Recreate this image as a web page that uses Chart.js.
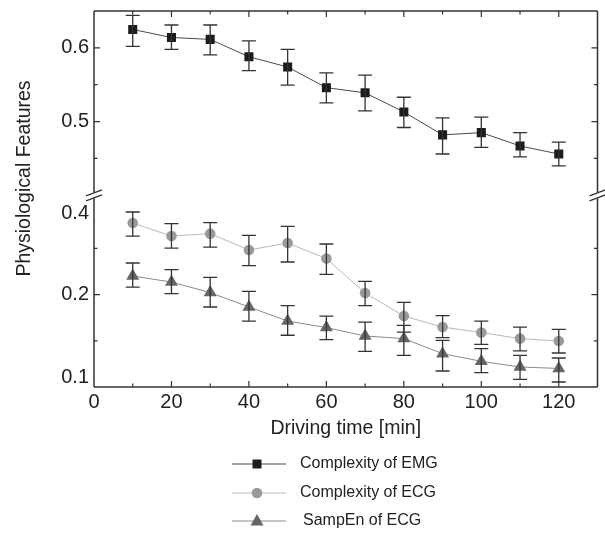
<!DOCTYPE html>
<html lang="en">
<head>
    <meta charset="UTF-8">
    <title>Physiological features x driving time</title>
    <style>
        html, body { margin: 0; padding: 0; background: #fff; }
        #grafico { display: block; }
    </style>
</head>
<body>
    <canvas id="grafico" width="605" height="534"></canvas>

<script src="https://cdn.jsdelivr.net/npm/chart.js"></script>
<script>
    // tempo de direcao (min)
    const tempos = [10, 20, 30, 40, 50, 60, 70, 80, 90, 100, 110, 120];

    // Complexity of EMG (eixo de cima)
    const emg    = [0.625, 0.614, 0.6115, 0.588, 0.574, 0.546, 0.539, 0.513, 0.482, 0.485, 0.467, 0.456];
    const emgSup = [0.644, 0.631, 0.631, 0.6096, 0.598, 0.566, 0.563, 0.533, 0.505, 0.506, 0.485, 0.472];
    const emgInf = [0.602, 0.598, 0.5905, 0.569, 0.5495, 0.5255, 0.5146, 0.492, 0.456, 0.465, 0.452, 0.440];

    // Complexity of ECG (eixo de baixo)
    const ecg    = [0.2775, 0.2634, 0.266, 0.2483, 0.2558, 0.239, 0.2017, 0.1768, 0.1649, 0.1589, 0.1524, 0.1498];
    const ecgSup = [0.2894, 0.2768, 0.2779, 0.2642, 0.2739, 0.2548, 0.2144, 0.1917, 0.1773, 0.1714, 0.1649, 0.1624];
    const ecgInf = [0.2634, 0.2504, 0.2515, 0.2314, 0.2353, 0.222, 0.1881, 0.1595, 0.1535, 0.1462, 0.139, 0.1368];

    // SampEn of ECG (eixo de baixo)
    const samp    = [0.2201, 0.2136, 0.2022, 0.1866, 0.1714, 0.1643, 0.1552, 0.1524, 0.1361, 0.1278, 0.1216, 0.1201];
    const sampSup = [0.2342, 0.2271, 0.2187, 0.2036, 0.1881, 0.1768, 0.1703, 0.1668, 0.1505, 0.1416, 0.1343, 0.1314];
    const sampInf = [0.2082, 0.2011, 0.1866, 0.1714, 0.156, 0.1513, 0.1386, 0.1343, 0.1173, 0.1156, 0.1083, 0.1054];

    const nomes = ['Complexity of EMG', 'Complexity of ECG', 'SampEn of ECG'];

    // ticks e rotulos
    const xTicks = [0, 10, 20, 30, 40, 50, 60, 70, 80, 90, 100, 110, 120, 130];
    const xRotulos = [0, 20, 40, 60, 80, 100, 120];
    const yTopTicks = [0.45, 0.5, 0.55, 0.6];
    const yTopRotulos = [0.5, 0.6];
    const yBotTicks = [0.15, 0.2, 0.25];
    const yBotRotuloValores = [0.11, 0.2, 0.2875];
    const yBotRotulos = ['0.1', '0.2', '0.4'];

    const fonte = "'Liberation Sans', Arial, sans-serif";
    const corTexto = '#222';
    const corEixo = '#333';

    const barras = [
        { sup: emgSup, inf: emgInf },
        { sup: ecgSup, inf: ecgInf },
        { sup: sampSup, inf: sampInf }
    ];

    function pontos(valores) {
        return tempos.map(function (t, i) { return { x: t, y: valores[i] }; });
    }

    function semPadding(s) {
        s.paddingTop = 0;
        s.paddingBottom = 0;
        s.paddingLeft = 0;
        s.paddingRight = 0;
    }

    const pluginFigura = {
        id: 'figura',
        afterDatasetsDraw(chart) {
            const ctx = chart.ctx;
            const sx = chart.scales.x;
            ctx.save();
            ctx.strokeStyle = corEixo;
            ctx.lineWidth = 1.3;
            chart.data.datasets.forEach(function (ds, d) {
                const sy = chart.scales[ds.yAxisID];
                for (let i = 0; i < tempos.length; i++) {
                    const x = sx.getPixelForValue(tempos[i]);
                    const y1 = sy.getPixelForValue(barras[d].sup[i]);
                    const y2 = sy.getPixelForValue(barras[d].inf[i]);
                    ctx.beginPath();
                    ctx.moveTo(x, y1); ctx.lineTo(x, y2);
                    ctx.moveTo(x - 7, y1); ctx.lineTo(x + 7, y1);
                    ctx.moveTo(x - 7, y2); ctx.lineTo(x + 7, y2);
                    ctx.stroke();
                }
            });
            ctx.restore();
        },
        afterDraw(chart) {
            const ctx = chart.ctx;
            const a = chart.chartArea;
            const sx = chart.scales.x;
            const sTop = chart.scales.yTop;
            const sBot = chart.scales.yBot;
            const quebra = sTop.bottom;

            ctx.save();
            ctx.strokeStyle = corEixo;
            ctx.lineWidth = 1.5;

            // moldura
            ctx.beginPath();
            ctx.moveTo(a.left, a.top); ctx.lineTo(a.right, a.top);
            ctx.moveTo(a.left, a.bottom); ctx.lineTo(a.right, a.bottom);
            ctx.moveTo(a.left, a.top); ctx.lineTo(a.left, quebra - 3);
            ctx.moveTo(a.left, quebra + 3); ctx.lineTo(a.left, a.bottom);
            ctx.moveTo(a.right, a.top); ctx.lineTo(a.right, quebra - 3);
            ctx.moveTo(a.right, quebra + 3); ctx.lineTo(a.right, a.bottom);
            ctx.stroke();

            // ticks para dentro
            ctx.lineWidth = 1.2;
            ctx.beginPath();
            xTicks.forEach(function (v) {
                if (v === 0 || v === 130) return;
                const x = sx.getPixelForValue(v);
                const len = v % 20 === 0 ? 6 : 3.5;
                ctx.moveTo(x, a.bottom); ctx.lineTo(x, a.bottom - len);
                ctx.moveTo(x, a.top); ctx.lineTo(x, a.top + len);
            });
            function ticksY(escala, valores, maiores) {
                valores.forEach(function (v) {
                    const y = escala.getPixelForValue(v);
                    const len = maiores.some(function (m) { return Math.abs(m - v) < 1e-6; }) ? 6 : 3.5;
                    ctx.moveTo(a.left, y); ctx.lineTo(a.left + len, y);
                    ctx.moveTo(a.right, y); ctx.lineTo(a.right - len, y);
                });
            }
            ticksY(sTop, yTopTicks, yTopRotulos);
            ticksY(sBot, yBotTicks, [0.2]);
            ctx.stroke();

            // marcas de quebra
            ctx.lineWidth = 1.3;
            [a.left, a.right].forEach(function (x) {
                ctx.beginPath();
                ctx.moveTo(x - 8, quebra + 0.5); ctx.lineTo(x + 8, quebra - 5.5);
                ctx.moveTo(x - 8, quebra + 5.5); ctx.lineTo(x + 8, quebra - 0.5);
                ctx.stroke();
            });

            // titulo do eixo y
            ctx.fillStyle = corTexto;
            ctx.font = '19.5px ' + fonte;
            ctx.textAlign = 'center';
            ctx.textBaseline = 'middle';
            ctx.translate(25, 178.5);
            ctx.rotate(-Math.PI / 2);
            ctx.fillText('Physiological Features', 0, 0);
            ctx.restore();

            // legenda
            ctx.save();
            const linhasY = [464, 493, 521];
            chart.data.datasets.forEach(function (ds, d) {
                const y = linhasY[d];
                ctx.strokeStyle = ds.borderColor;
                ctx.lineWidth = 1;
                ctx.beginPath();
                ctx.moveTo(232, y); ctx.lineTo(286, y);
                ctx.stroke();
                ctx.fillStyle = ds.pointBackgroundColor;
                ctx.beginPath();
                if (ds.pointStyle === 'rect') {
                    ctx.rect(257 - 4.5, y - 4.5, 9, 9);
                } else if (ds.pointStyle === 'circle') {
                    ctx.arc(257, y, 5.3, 0, Math.PI * 2);
                } else {
                    ctx.moveTo(257, y - 7);
                    ctx.lineTo(257 + 6.5, y + 4.5);
                    ctx.lineTo(257 - 6.5, y + 4.5);
                    ctx.closePath();
                }
                ctx.fill();
                ctx.fillStyle = corTexto;
                ctx.font = '16px ' + fonte;
                ctx.textAlign = 'left';
                ctx.textBaseline = 'middle';
                ctx.fillText(ds.label, d === 2 ? 303 : 300, y);
            });
            ctx.restore();
        }
    };

    const ctx = document.getElementById('grafico');

    new Chart(ctx, {
        type: 'line',
        data: {
            datasets: [{
                label: nomes[0],
                data: pontos(emg),
                yAxisID: 'yTop',
                borderColor: '#4a4a4a',
                borderWidth: 1,
                pointStyle: 'rect',
                pointRadius: 6.4,
                pointBackgroundColor: '#1c1c1c',
                pointBorderColor: '#1c1c1c',
                pointBorderWidth: 0
            }, {
                label: nomes[1],
                data: pontos(ecg),
                yAxisID: 'yBot',
                borderColor: '#b8b8b8',
                borderWidth: 1,
                pointStyle: 'circle',
                pointRadius: 5.3,
                pointBackgroundColor: '#9a9a9a',
                pointBorderColor: '#9a9a9a',
                pointBorderWidth: 0
            }, {
                label: nomes[2],
                data: pontos(samp),
                yAxisID: 'yBot',
                borderColor: '#8a8a8a',
                borderWidth: 1,
                pointStyle: 'triangle',
                pointRadius: 7.5,
                pointBackgroundColor: '#666666',
                pointBorderColor: '#666666',
                pointBorderWidth: 0
            }]
        },
        options: {
            responsive: false,
            animation: false,
            layout: { padding: { left: 0, right: 6, top: 11, bottom: 94 } },
            plugins: {
                legend: { display: false },
                tooltip: { enabled: false }
            },
            scales: {
                x: {
                    type: 'linear',
                    min: 0,
                    max: 130,
                    grid: { display: false, drawTicks: false },
                    border: { display: false },
                    afterBuildTicks: function (s) { s.ticks = xRotulos.map(function (v) { return { value: v }; }); },
                    afterFit: function (s) { s.height = 53; semPadding(s); },
                    ticks: {
                        padding: 3.5,
                        autoSkip: false,
                        maxRotation: 0,
                        color: corTexto,
                        font: { family: fonte, size: 20 }
                    },
                    title: {
                        display: true,
                        text: 'Driving time [min]',
                        color: corTexto,
                        font: { family: fonte, size: 19.5 },
                        padding: 0
                    }
                },
                yBot: {
                    type: 'linear',
                    position: 'left',
                    stack: 'y',
                    stackWeight: 191.7,
                    min: 0.1,
                    max: 0.3075,
                    grid: { display: false, drawTicks: false },
                    border: { display: false },
                    afterBuildTicks: function (s) { s.ticks = yBotRotuloValores.map(function (v) { return { value: v }; }); },
                    afterFit: function (s) { s.width = 94; semPadding(s); },
                    ticks: {
                        padding: 5,
                        autoSkip: false,
                        color: corTexto,
                        font: { family: fonte, size: 20 },
                        callback: function (v, i) { return yBotRotulos[i]; }
                    }
                },
                yTop: {
                    type: 'linear',
                    position: 'left',
                    stack: 'y',
                    stackWeight: 184.3,
                    min: 0.4,
                    max: 0.65,
                    grid: { display: false, drawTicks: false },
                    border: { display: false },
                    afterBuildTicks: function (s) { s.ticks = yTopRotulos.map(function (v) { return { value: v }; }); },
                    afterFit: function (s) { s.width = 94; semPadding(s); },
                    ticks: {
                        padding: 5,
                        autoSkip: false,
                        color: corTexto,
                        font: { family: fonte, size: 20 },
                        callback: function (v) { return v.toFixed(1); }
                    }
                }
            }
        },
        plugins: [pluginFigura]
    });
</script>
</body>
</html>
